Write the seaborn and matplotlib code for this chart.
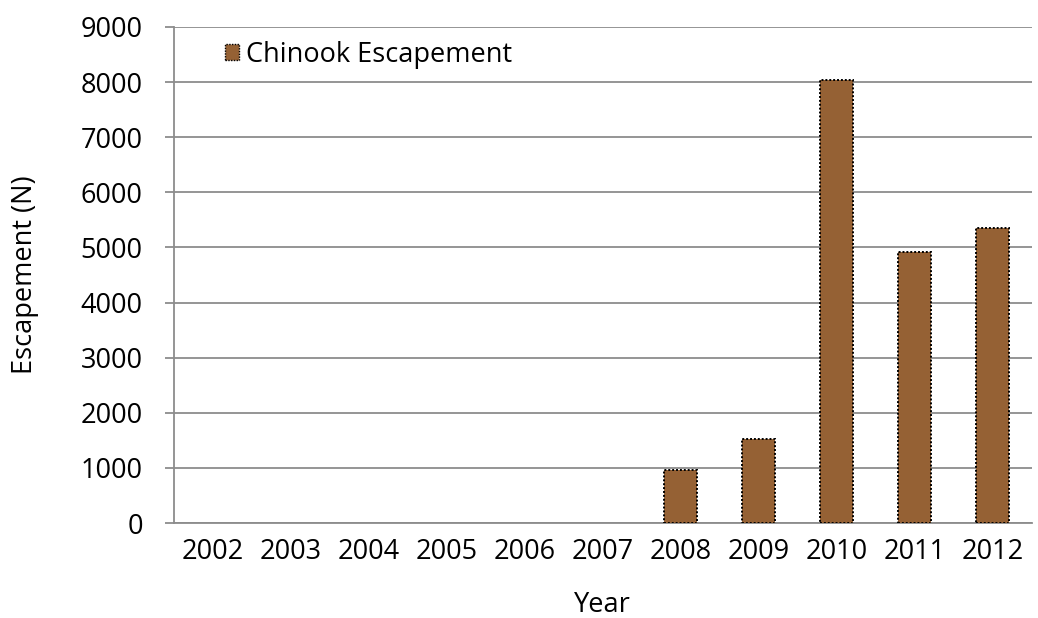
import numpy as np
import pandas as pd
import matplotlib
matplotlib.use("Agg")
import matplotlib.pyplot as plt
import seaborn as sns
from matplotlib.patches import Patch

years = ["2002", "2003", "2004", "2005", "2006", "2007",
         "2008", "2009", "2010", "2011", "2012"]
escapement = [np.nan, np.nan, np.nan, np.nan, np.nan, np.nan,
              955, 1530, 8030, 4910, 5360]
y_ticks = [0, 1000, 2000, 3000, 4000, 5000, 6000, 7000, 8000, 9000]
series_name = "Chinook Escapement"

df = pd.DataFrame({"Year": years, "Escapement": escapement})

sns.set_style("white")
plt.rcParams["font.family"] = ["Open Sans", "DejaVu Sans"]
plt.rcParams["text.color"] = "black"
plt.rcParams["axes.labelcolor"] = "black"
plt.rcParams["xtick.labelcolor"] = "black"
plt.rcParams["ytick.labelcolor"] = "black"

FS = 19.5

fig = plt.figure(figsize=(10.38, 6.18), dpi=100)
ax = fig.add_axes([0.1676, 0.1537, 0.8264, 0.8027])

bar_color = "#956134"
sns.barplot(data=df, x="Year", y="Escapement", order=years, color=bar_color,
            width=0.42, saturation=1, edgecolor="black", linewidth=1.4,
            linestyle=(0, (1, 1)), ax=ax, zorder=3)

ax.set_ylim(0, 9000)
ax.set_xlim(-0.5, len(years) - 0.5)
ax.set_yticks(y_ticks)
ax.set_yticklabels([str(v) for v in y_ticks], fontsize=FS)
ax.yaxis.grid(True, color="#8c8c8c", linewidth=1.3, zorder=0)
ax.set_axisbelow(True)

# ticks on x axis sit between categories
ax.set_xticks(range(len(years)))
ax.set_xticklabels(years, fontsize=FS)
ax.set_xticks(np.arange(-0.5, len(years), 1.0), minor=True)
ax.tick_params(axis="x", which="major", length=0, pad=11)
ax.tick_params(axis="x", which="minor", length=7, width=1.3, color="#8c8c8c", direction="out")
ax.tick_params(axis="y", which="major", length=6.5, width=1.3, color="#8c8c8c",
               direction="out", pad=16, left=True)

for side in ["top", "right"]:
    ax.spines[side].set_visible(False)
for side in ["left", "bottom"]:
    ax.spines[side].set_color("#8c8c8c")
    ax.spines[side].set_linewidth(1.3)

ax.set_xlabel("Year", fontsize=FS, labelpad=18)
ax.set_ylabel("Escapement (N)", fontsize=FS, labelpad=30)

handle = Patch(facecolor=bar_color, edgecolor="black", linestyle=(0, (1, 1)), linewidth=1.0)
ax.legend([handle], [series_name], loc="upper left", bbox_to_anchor=(0.04, 1.005),
          frameon=False, fontsize=FS, handlelength=0.55, handleheight=0.55,
          handletextpad=0.25, borderaxespad=0.2)

fig.savefig("out.png", dpi=100)
